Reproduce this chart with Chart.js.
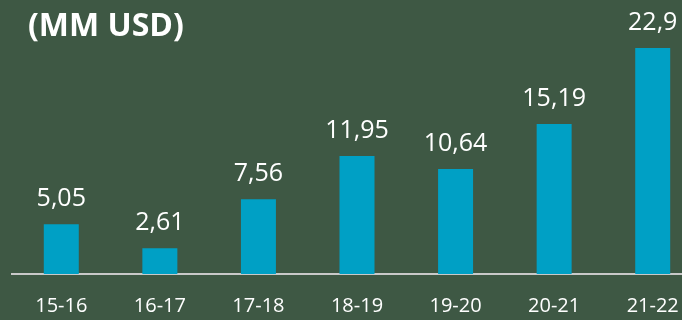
<!DOCTYPE html>
<html>
<head>
<meta charset="utf-8">
<script src="https://cdn.jsdelivr.net/npm/chart.js@4"></script>
<style>
  html, body { margin: 0; padding: 0; background: #3e5844; overflow: hidden; }
  canvas { display: block; }
</style>
</head>
<body>
<!-- canvas wider than the window so the last bar sits like the reference -->
<canvas id="mmChart" width="702" height="320"></canvas>
<script>
// Periods and values (MM USD)
const periods = ['15-16', '16-17', '17-18', '18-19', '19-20', '20-21', '21-22'];
const values = [5.05, 2.61, 7.56, 11.95, 10.64, 15.19, 22.9];
const titleText = '(MM USD)';

// value labels above bars, with comma decimals
const valueLabels = {
  id: 'valueLabels',
  afterDatasetsDraw(chart) {
    const { ctx } = chart;
    const meta = chart.getDatasetMeta(0);
    ctx.save();
    ctx.fillStyle = '#ffffff';
    ctx.font = '25px "Open Sans"';
    ctx.textAlign = 'center';
    ctx.textBaseline = 'alphabetic';
    meta.data.forEach((bar, i) => {
      const txt = String(values[i]).replace('.', ',');
      ctx.fillText(txt, bar.x, bar.y - 18);
    });
    ctx.restore();
  }
};

// title in top-left corner
const cornerTitle = {
  id: 'cornerTitle',
  afterDraw(chart) {
    const { ctx } = chart;
    ctx.save();
    ctx.fillStyle = '#ffffff';
    ctx.font = 'bold 32px "Open Sans"';
    ctx.textAlign = 'left';
    ctx.textBaseline = 'alphabetic';
    ctx.fillText(titleText, 28, 36);
    ctx.restore();
  }
};

new Chart(document.getElementById('mmChart'), {
  type: 'bar',
  data: {
    labels: periods,
    datasets: [{
      data: values,
      backgroundColor: '#00a0c5',
      barPercentage: 0.355,
      categoryPercentage: 1
    }]
  },
  options: {
    responsive: false,
    animation: false,
    layout: { padding: { left: 12, right: 0, top: 0, bottom: 0 } },
    plugins: {
      legend: { display: false },
      tooltip: { enabled: false }
    },
    scales: {
      x: {
        grid: { display: false },
        border: { display: true, color: '#c9c9c9', width: 2 },
        ticks: { color: '#ffffff', font: { family: '"Open Sans"', size: 20 }, padding: 12, maxRotation: 0 },
        afterFit: (s) => { s.height = 46; }
      },
      y: { display: false, min: 0, max: 27.75 }
    }
  },
  plugins: [valueLabels, cornerTitle]
});
</script>
</body>
</html>
